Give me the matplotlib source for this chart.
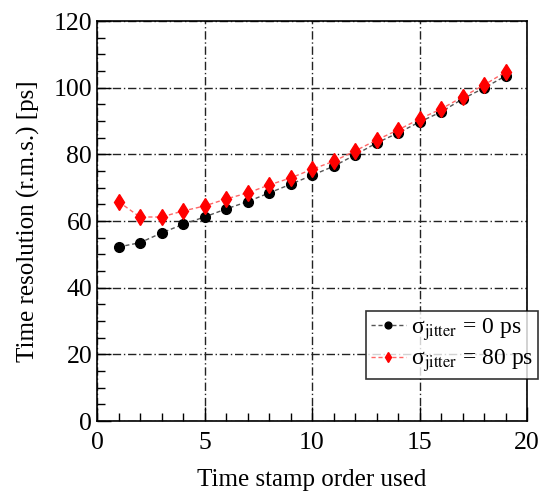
import numpy as np
import matplotlib
matplotlib.use("Agg")
import matplotlib.pyplot as plt
from matplotlib.ticker import MultipleLocator

plt.rcParams['font.family'] = ['Liberation Serif', 'DejaVu Serif']
plt.rcParams['mathtext.fontset'] = 'stix'

# time stamp order
order = [1, 2, 3, 4, 5, 6, 7, 8, 9, 10, 11, 12, 13, 14, 15, 16, 17, 18, 19]
# sigma_jitter = 0 ps
res_0 = [52.2, 53.5, 56.4, 59.0, 61.2, 63.6, 65.8, 68.4, 71.0, 73.7, 76.4,
         79.8, 83.4, 86.4, 89.7, 92.7, 96.6, 99.9, 103.5]
# sigma_jitter = 80 ps
res_80 = [65.8, 61.2, 61.2, 63.0, 64.5, 66.6, 68.4, 70.8, 72.9, 75.5, 77.9,
          81.0, 84.3, 87.3, 90.6, 93.6, 97.2, 100.8, 104.7]

fig = plt.figure(figsize=(5.45, 4.92), dpi=100)
ax = fig.add_axes([97 / 545, 1 - 421 / 492, 430 / 545, 400 / 492])

ax.plot(order, res_0, linestyle=(0, (3, 2)), color='#555555', lw=1.0,
        marker='o', ms=7, mfc='black', mec='black',
        label=u'\u03c3$_{\\rm jitter}$ = 0 ps', zorder=3)
ax.plot(order, res_80, linestyle=(0, (3, 2)), color='#ff6666', lw=1.0,
        marker='d', ms=8, mfc='red', mec='red',
        label=u'\u03c3$_{\\rm jitter}$ = 80 ps', zorder=4)

ax.set_xlim(0, 20)
ax.set_ylim(0, 120)
ax.xaxis.set_major_locator(MultipleLocator(5))
ax.xaxis.set_minor_locator(MultipleLocator(1))
ax.yaxis.set_major_locator(MultipleLocator(20))
ax.yaxis.set_minor_locator(MultipleLocator(5))
ax.tick_params(which='both', direction='in', labelsize=18.5, width=1)
ax.tick_params(which='major', length=10)
ax.tick_params(which='minor', length=6)
ax.tick_params(axis='x', pad=8)
for s in ax.spines.values():
    s.set_linewidth(1.2)

ax.grid(True, which='major', color='#222222', linestyle=(0, (6, 2, 1, 2)), lw=1.0)

ax.set_xlabel('Time stamp order used', fontsize=18, labelpad=11)
ax.set_ylabel('Time resolution (r.m.s.) [ps]', fontsize=18, labelpad=10)

leg = ax.legend(loc='lower right', bbox_to_anchor=(1.025, 0.105), fontsize=17,
                frameon=True, fancybox=False, edgecolor='black',
                handlelength=1.5, markerscale=0.7, borderpad=0.2,
                labelspacing=0.2, handletextpad=0.2, borderaxespad=0)
leg.get_frame().set_linewidth(1.2)
leg.set_zorder(10)

fig.savefig('out.png', dpi=100)
